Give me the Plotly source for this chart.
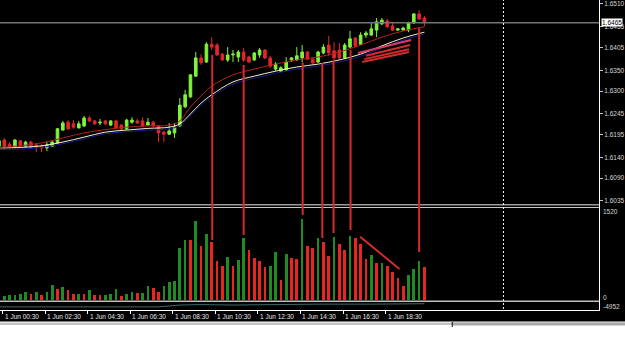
import plotly.graph_objects as go

# ---------------- data ----------------
bar_index = list(range(81))

open_ = [1.6167, 1.6182, 1.6172, 1.6165, 1.6180, 1.6167, 1.6177, 1.6170, 1.6167, 1.6163,
         1.6167, 1.6175, 1.6206, 1.6225, 1.6221, 1.6211, 1.6216, 1.6235, 1.6228, 1.6223,
         1.6228, 1.6218, 1.6228, 1.6218, 1.6209, 1.6225, 1.6228, 1.6228, 1.6218, 1.6225,
         1.6216, 1.6201, 1.6196, 1.6199, 1.6216, 1.6262, 1.6286, 1.6336, 1.6380, 1.6370,
         1.6413, 1.6411, 1.6389, 1.6375, 1.6387, 1.6382, 1.6394, 1.6382, 1.6375, 1.6387,
         1.6399, 1.6380, 1.6353, 1.6348, 1.6351, 1.6375, 1.6375, 1.6380, 1.6394, 1.6377,
         1.6370, 1.6392, 1.6411, 1.6397, 1.6399, 1.6380, 1.6406, 1.6428, 1.6413, 1.6435,
         1.6435, 1.6447, 1.6462, 1.6469, 1.6457, 1.6447, 1.6447, 1.6447, 1.6464, 1.6486,
         1.6476]
high = [1.6184, 1.6187, 1.6177, 1.6184, 1.6182, 1.6180, 1.6180, 1.6175, 1.6172, 1.6177,
        1.6180, 1.6211, 1.6228, 1.6230, 1.6230, 1.6228, 1.6240, 1.6240, 1.6230, 1.6233,
        1.6230, 1.6230, 1.6230, 1.6221, 1.6233, 1.6237, 1.6233, 1.6237, 1.6235, 1.6228,
        1.6218, 1.6204, 1.6223, 1.6223, 1.6283, 1.6303, 1.6341, 1.6394, 1.6389, 1.6418,
        1.6430, 1.6416, 1.6392, 1.6406, 1.6399, 1.6399, 1.6404, 1.6385, 1.6394, 1.6404,
        1.6401, 1.6385, 1.6370, 1.6360, 1.6382, 1.6382, 1.6406, 1.6411, 1.6397, 1.6380,
        1.6397, 1.6413, 1.6433, 1.6418, 1.6416, 1.6416, 1.6445, 1.6430, 1.6442, 1.6445,
        1.6464, 1.6476, 1.6476, 1.6474, 1.6464, 1.6452, 1.6455, 1.6467, 1.6488, 1.6495,
        1.6481]
low = [1.6163, 1.6160, 1.6163, 1.6163, 1.6165, 1.6165, 1.6163, 1.6153, 1.6153, 1.6155,
       1.6165, 1.6172, 1.6204, 1.6206, 1.6209, 1.6211, 1.6213, 1.6225, 1.6218, 1.6218,
       1.6218, 1.6216, 1.6209, 1.6206, 1.6206, 1.6221, 1.6221, 1.6213, 1.6216, 1.6213,
       1.6177, 1.6177, 1.6194, 1.6187, 1.6213, 1.6259, 1.6283, 1.6334, 1.6363, 1.6368,
       1.6399, 1.6385, 1.6373, 1.6370, 1.6370, 1.6370, 1.6370, 1.6368, 1.6373, 1.6380,
       1.6377, 1.6356, 1.6348, 1.6346, 1.6348, 1.6370, 1.6373, 1.6370, 1.6375, 1.6365,
       1.6368, 1.6389, 1.6385, 1.6375, 1.6375, 1.6377, 1.6404, 1.6406, 1.6411, 1.6428,
       1.6433, 1.6430, 1.6459, 1.6452, 1.6445, 1.6445, 1.6445, 1.6442, 1.6462, 1.6471,
       1.6457]
close = [1.6180, 1.6165, 1.6165, 1.6182, 1.6167, 1.6177, 1.6165, 1.6165, 1.6163, 1.6170,
         1.6177, 1.6209, 1.6223, 1.6209, 1.6213, 1.6221, 1.6235, 1.6228, 1.6221, 1.6225,
         1.6221, 1.6228, 1.6211, 1.6209, 1.6230, 1.6230, 1.6223, 1.6216, 1.6225, 1.6216,
         1.6199, 1.6196, 1.6204, 1.6213, 1.6266, 1.6291, 1.6339, 1.6380, 1.6368, 1.6413,
         1.6406, 1.6387, 1.6375, 1.6387, 1.6389, 1.6394, 1.6375, 1.6370, 1.6392, 1.6399,
         1.6380, 1.6360, 1.6365, 1.6356, 1.6370, 1.6380, 1.6385, 1.6394, 1.6377, 1.6368,
         1.6394, 1.6406, 1.6392, 1.6380, 1.6380, 1.6411, 1.6426, 1.6409, 1.6435, 1.6440,
         1.6450, 1.6467, 1.6471, 1.6455, 1.6447, 1.6450, 1.6452, 1.6464, 1.6486, 1.6474,
         1.6465]
volume = [69, 75, 78, 86, 109, 132, 104, 144, 86, 144,
          259, 196, 225, 173, 104, 109, 102, 178, 86, 81,
          86, 98, 190, 69, 98, 144, 115, 121, 248, 207,
          138, 236, 317, 322, 893, 1042, 1030, 1364, 939, 1134,
          1007, 674, 582, 743, 593, 685, 1065, 858, 731, 674,
          565, 590, 823, 351, 789, 720, 708, 1399, 927, 892,
          1076, 996, 766, 1082, 961, 869, 1100, 1065, 967, 708,
          777, 633, 639, 593, 484, 386, 248, 432, 535, 674,
          570]

ma_index = [0, 4, 8, 12, 16, 20, 24, 28, 32, 34, 36, 38, 40, 44, 48, 52, 56, 60, 64, 68, 72, 76, 80]
ma_fast = [1.6164, 1.6168, 1.6175, 1.6187, 1.6199, 1.6207, 1.6213, 1.6216, 1.6218, 1.6228, 1.6262, 1.6288,
           1.6312, 1.6339, 1.6353, 1.6365, 1.6375, 1.6382, 1.6394, 1.6411, 1.6430, 1.6445, 1.6455]
ma_mid = [1.6163, 1.6164, 1.6168, 1.6177, 1.6189, 1.6201, 1.6206, 1.6210, 1.6213, 1.6221, 1.6245, 1.6271,
          1.6291, 1.6322, 1.6336, 1.6348, 1.6358, 1.6365, 1.6375, 1.6389, 1.6409, 1.6428, 1.6442]
ma_slow = [1.6159, 1.6160, 1.6164, 1.6173, 1.6185, 1.6197, 1.6202, 1.6206, 1.6209, 1.6217, 1.6240, 1.6266,
           1.6286, 1.6317, 1.6331, 1.6343, 1.6353, 1.6360, 1.6370, 1.6384, 1.6404, 1.6423, 1.6437]

ind_index = [0, 10, 20, 30, 34, 38, 44, 50, 60, 70, 80]
ind_value = [0.35, 0.35, 0.4, 0.35, 0.55, 0.6, 0.55, 0.6, 0.65, 0.65, 0.7]

time_labels = ["1 Jun 00:30", "1 Jun 02:30", "1 Jun 04:30", "1 Jun 06:30", "1 Jun 08:30",
               "1 Jun 10:30", "1 Jun 12:30", "1 Jun 14:30", "1 Jun 16:30", "1 Jun 18:30"]
price_ticks = [1.6510, 1.6455, 1.6405, 1.6350, 1.6300, 1.6245, 1.6195, 1.6140, 1.6090, 1.6035]
bid_price = 1.6465
volume_ticks = [1520, 0]
bottom_label = "-4952"

# user-drawn marks: vertical lines (bar position, start price, end volume)
vline_pos = [40.1, 46.0, 57.1, 60.8, 62.9, 66.1, 79.0]
vline_price = [1.6387, 1.6363, 1.6369, 1.6368, 1.6375, 1.6399, 1.6452]
vline_vol = [1036, 1123, 1468, 1071, 1157, 1209, 829]
# diagonal in volume panel
vdiag_pos = [67.9, 75.3]
vdiag_vol = [1093, 535]
# trend-line cluster in price panel
tl_x0 = [67.5, 69.0, 68.7, 68.3]
tl_y0 = [1.6392, 1.6385, 1.6377, 1.6370]
tl_x1 = [77.5, 77.3, 77.1, 77.1]
tl_y1 = [1.6423, 1.6411, 1.6401, 1.6394]
separator_pos = 94.85

# ---------------- styling ----------------
BULL = "#80f23c"
BEAR = "#e4262b"
VUP = "#1f8b24"
VDN = "#e8261f"
USER = "#d62b2b"
FONT = "Liberation Sans"
TXT = "#d8d8d8"

W, H = 625, 341
PLOT_W, PLOT_H = 602, 310


def px_x(X):
    return X / PLOT_W


def px_y(Y):
    return 1 - Y / PLOT_H


price_range = [1.602285, 1.65196]
vol_range = [-17.27, 1623.4]
x_range = [0.187, 112.82]

vol_colors = [VUP] + [VUP if volume[i] > volume[i - 1] else VDN for i in range(1, len(volume))]

fig = go.Figure()
fig.add_trace(go.Candlestick(
    x=bar_index, open=open_, high=high, low=low, close=close,
    increasing=dict(line=dict(color=BULL, width=1), fillcolor=BULL),
    decreasing=dict(line=dict(color=BEAR, width=1), fillcolor=BEAR),
    whiskerwidth=0, xaxis="x", yaxis="y", hoverinfo="skip"))
fig.add_trace(go.Scatter(x=ma_index, y=ma_slow, mode="lines", line=dict(color="#1c1c8e", width=1, shape="spline"),
                         xaxis="x", yaxis="y", hoverinfo="skip"))
fig.add_trace(go.Scatter(x=ma_index, y=ma_mid, mode="lines", line=dict(color="#f2f0cc", width=1, shape="spline"),
                         xaxis="x", yaxis="y", hoverinfo="skip"))
fig.add_trace(go.Scatter(x=ma_index, y=ma_fast, mode="lines", line=dict(color="#b3221e", width=1, shape="spline"),
                         xaxis="x", yaxis="y", hoverinfo="skip"))
fig.add_trace(go.Bar(x=bar_index, y=volume, marker=dict(color=vol_colors, line=dict(width=0)), width=0.5,
                     xaxis="x2", yaxis="y2", hoverinfo="skip"))
fig.add_trace(go.Scatter(x=ind_index, y=ind_value, mode="lines", line=dict(color="#3d6b6b", width=1),
                         xaxis="x3", yaxis="y3", hoverinfo="skip"))

shapes = []
# bottom window strip (outside the plot area)
shapes.append(dict(type="rect", xref="paper", yref="paper", x0=-0.01, x1=W / PLOT_W + 0.01,
                   y0=px_y(345), y1=px_y(321.5), fillcolor="#ffffff", line=dict(width=0), layer="below"))
shapes.append(dict(type="rect", xref="paper", yref="paper", x0=-0.01, x1=W / PLOT_W + 0.01,
                   y0=px_y(325), y1=px_y(322.5), fillcolor="#c4c4c4", line=dict(width=0), layer="below"))
shapes.append(dict(type="rect", xref="paper", yref="paper", x0=px_x(455), x1=W / PLOT_W + 0.01,
                   y0=px_y(325.5), y1=px_y(322.5), fillcolor="#a8a8a8", line=dict(width=0), layer="below"))
shapes.append(dict(type="line", xref="paper", yref="paper", x0=px_x(454.5), x1=px_x(454.5),
                   y0=px_y(327), y1=px_y(322), line=dict(color="#000000", width=1), layer="below"))
# panel separators
shapes.append(dict(type="line", xref="paper", yref="paper", x0=0, x1=1, y0=px_y(204.8), y1=px_y(204.8),
                   line=dict(color="#9a9a9a", width=1.5), layer="above"))
shapes.append(dict(type="line", xref="paper", yref="paper", x0=0, x1=1, y0=px_y(207.5), y1=px_y(207.5),
                   line=dict(color="#c8c8c8", width=1), layer="above"))
shapes.append(dict(type="line", xref="paper", yref="paper", x0=0, x1=1, y0=px_y(301.2), y1=px_y(301.2),
                   line=dict(color="#c0c0c0", width=1.5), layer="above"))
# bid line
shapes.append(dict(type="line", xref="paper", yref="y", x0=0, x1=1, y0=bid_price, y1=bid_price,
                   line=dict(color="#747474", width=1.5), layer="above"))
# dotted separator
shapes.append(dict(type="line", xref="x", yref="paper", x0=separator_pos, x1=separator_pos, y0=px_y(309), y1=1,
                   line=dict(color="#ffffff", width=1, dash="2px,2px"), layer="above"))
# user vertical lines, split across the two panels
for xp, p, v in zip(vline_pos, vline_price, vline_vol):
    shapes.append(dict(type="line", xref="x", yref="y", x0=xp, x1=xp, y0=p, y1=price_range[0],
                       line=dict(color=USER, width=2), layer="above"))
    shapes.append(dict(type="line", xref="x2", yref="y2", x0=xp, x1=xp, y0=vol_range[1], y1=v,
                       line=dict(color=USER, width=2), layer="above"))
shapes.append(dict(type="line", xref="x2", yref="y2", x0=vdiag_pos[0], x1=vdiag_pos[1], y0=vdiag_vol[0],
                   y1=vdiag_vol[1], line=dict(color=USER, width=2), layer="above"))
tl_colors = ["#d83a6a", USER, USER, USER]
for a, b, c, d, col in zip(tl_x0, tl_y0, tl_x1, tl_y1, tl_colors):
    shapes.append(dict(type="line", xref="x", yref="y", x0=a, x1=c, y0=b, y1=d,
                       line=dict(color=col, width=2), layer="above"))

annotations = []
annotations.append(dict(xref="paper", yref="y", x=1, y=bid_price, xanchor="left", yanchor="middle",
                        xshift=2, text="%.4f" % bid_price, showarrow=False, bgcolor="#ffffff",
                        borderpad=0, font=dict(family=FONT, size=6.5, color="#000000")))
annotations.append(dict(xref="paper", yref="y2", x=1, y=volume_ticks[0], xanchor="left", yanchor="middle",
                        xshift=2, text=str(volume_ticks[0]), showarrow=False,
                        font=dict(family=FONT, size=6.5, color=TXT)))
annotations.append(dict(xref="paper", yref="y2", x=1, y=volume_ticks[1], xanchor="left", yanchor="middle",
                        xshift=2, yshift=3, text=str(volume_ticks[1]), showarrow=False,
                        font=dict(family=FONT, size=6.5, color=TXT)))
annotations.append(dict(xref="paper", yref="paper", x=1, y=px_y(306), xanchor="left", yanchor="middle",
                        xshift=2, text=bottom_label, showarrow=False,
                        font=dict(family=FONT, size=6.5, color=TXT)))

time_ticks = [0.69 + 8 * k for k in range(len(time_labels))]
for tv, tt in zip(time_ticks, time_labels):
    annotations.append(dict(xref="x3", yref="paper", x=tv, y=px_y(316.5), xanchor="left", yanchor="middle",
                            xshift=0, text=tt, showarrow=False,
                            font=dict(family=FONT, size=6.5, color="#e6e6e6")))

common_x = dict(range=x_range, showgrid=False, zeroline=False, showline=False, showticklabels=False, ticks="")
fig.update_layout(
    width=W, height=H, margin=dict(l=0, r=W - PLOT_W, t=0, b=H - PLOT_H),
    paper_bgcolor="#000000", plot_bgcolor="#000000", showlegend=False, bargap=0,
    xaxis=dict(domain=[0, 1], anchor="y", rangeslider=dict(visible=False), **common_x),
    xaxis2=dict(domain=[0, 1], anchor="y2", matches="x", **common_x),
    xaxis3=dict(domain=[0, 1], anchor="y3", matches="x", range=x_range, showgrid=False, zeroline=False,
                showline=True, linecolor="#ffffff", linewidth=1, tickvals=time_ticks,
                ticktext=["" for _ in time_ticks], ticks="outside", ticklen=3, tickcolor="#ffffff",
                showticklabels=True),
    yaxis=dict(domain=[px_y(206), 1], anchor="x", range=price_range, side="right", showgrid=False,
               zeroline=False, showline=True, linecolor="#ffffff", linewidth=1,
               tickvals=price_ticks, ticktext=["%.4f" % v for v in price_ticks], ticks="outside",
               ticklen=3, tickcolor="#c8c8c8", tickfont=dict(family=FONT, size=6.5, color=TXT)),
    yaxis2=dict(domain=[px_y(301), px_y(206)], anchor="x2", range=vol_range, side="right", showgrid=False,
                zeroline=False, showline=True, linecolor="#ffffff", linewidth=1, showticklabels=False,
                ticks=""),
    yaxis3=dict(domain=[0, px_y(301)], anchor="x3", range=[0, 1], side="right", showgrid=False,
                zeroline=False, showline=True, linecolor="#ffffff", linewidth=1, showticklabels=False,
                ticks=""),
    shapes=shapes, annotations=annotations,
)

fig.write_html("out.html")
